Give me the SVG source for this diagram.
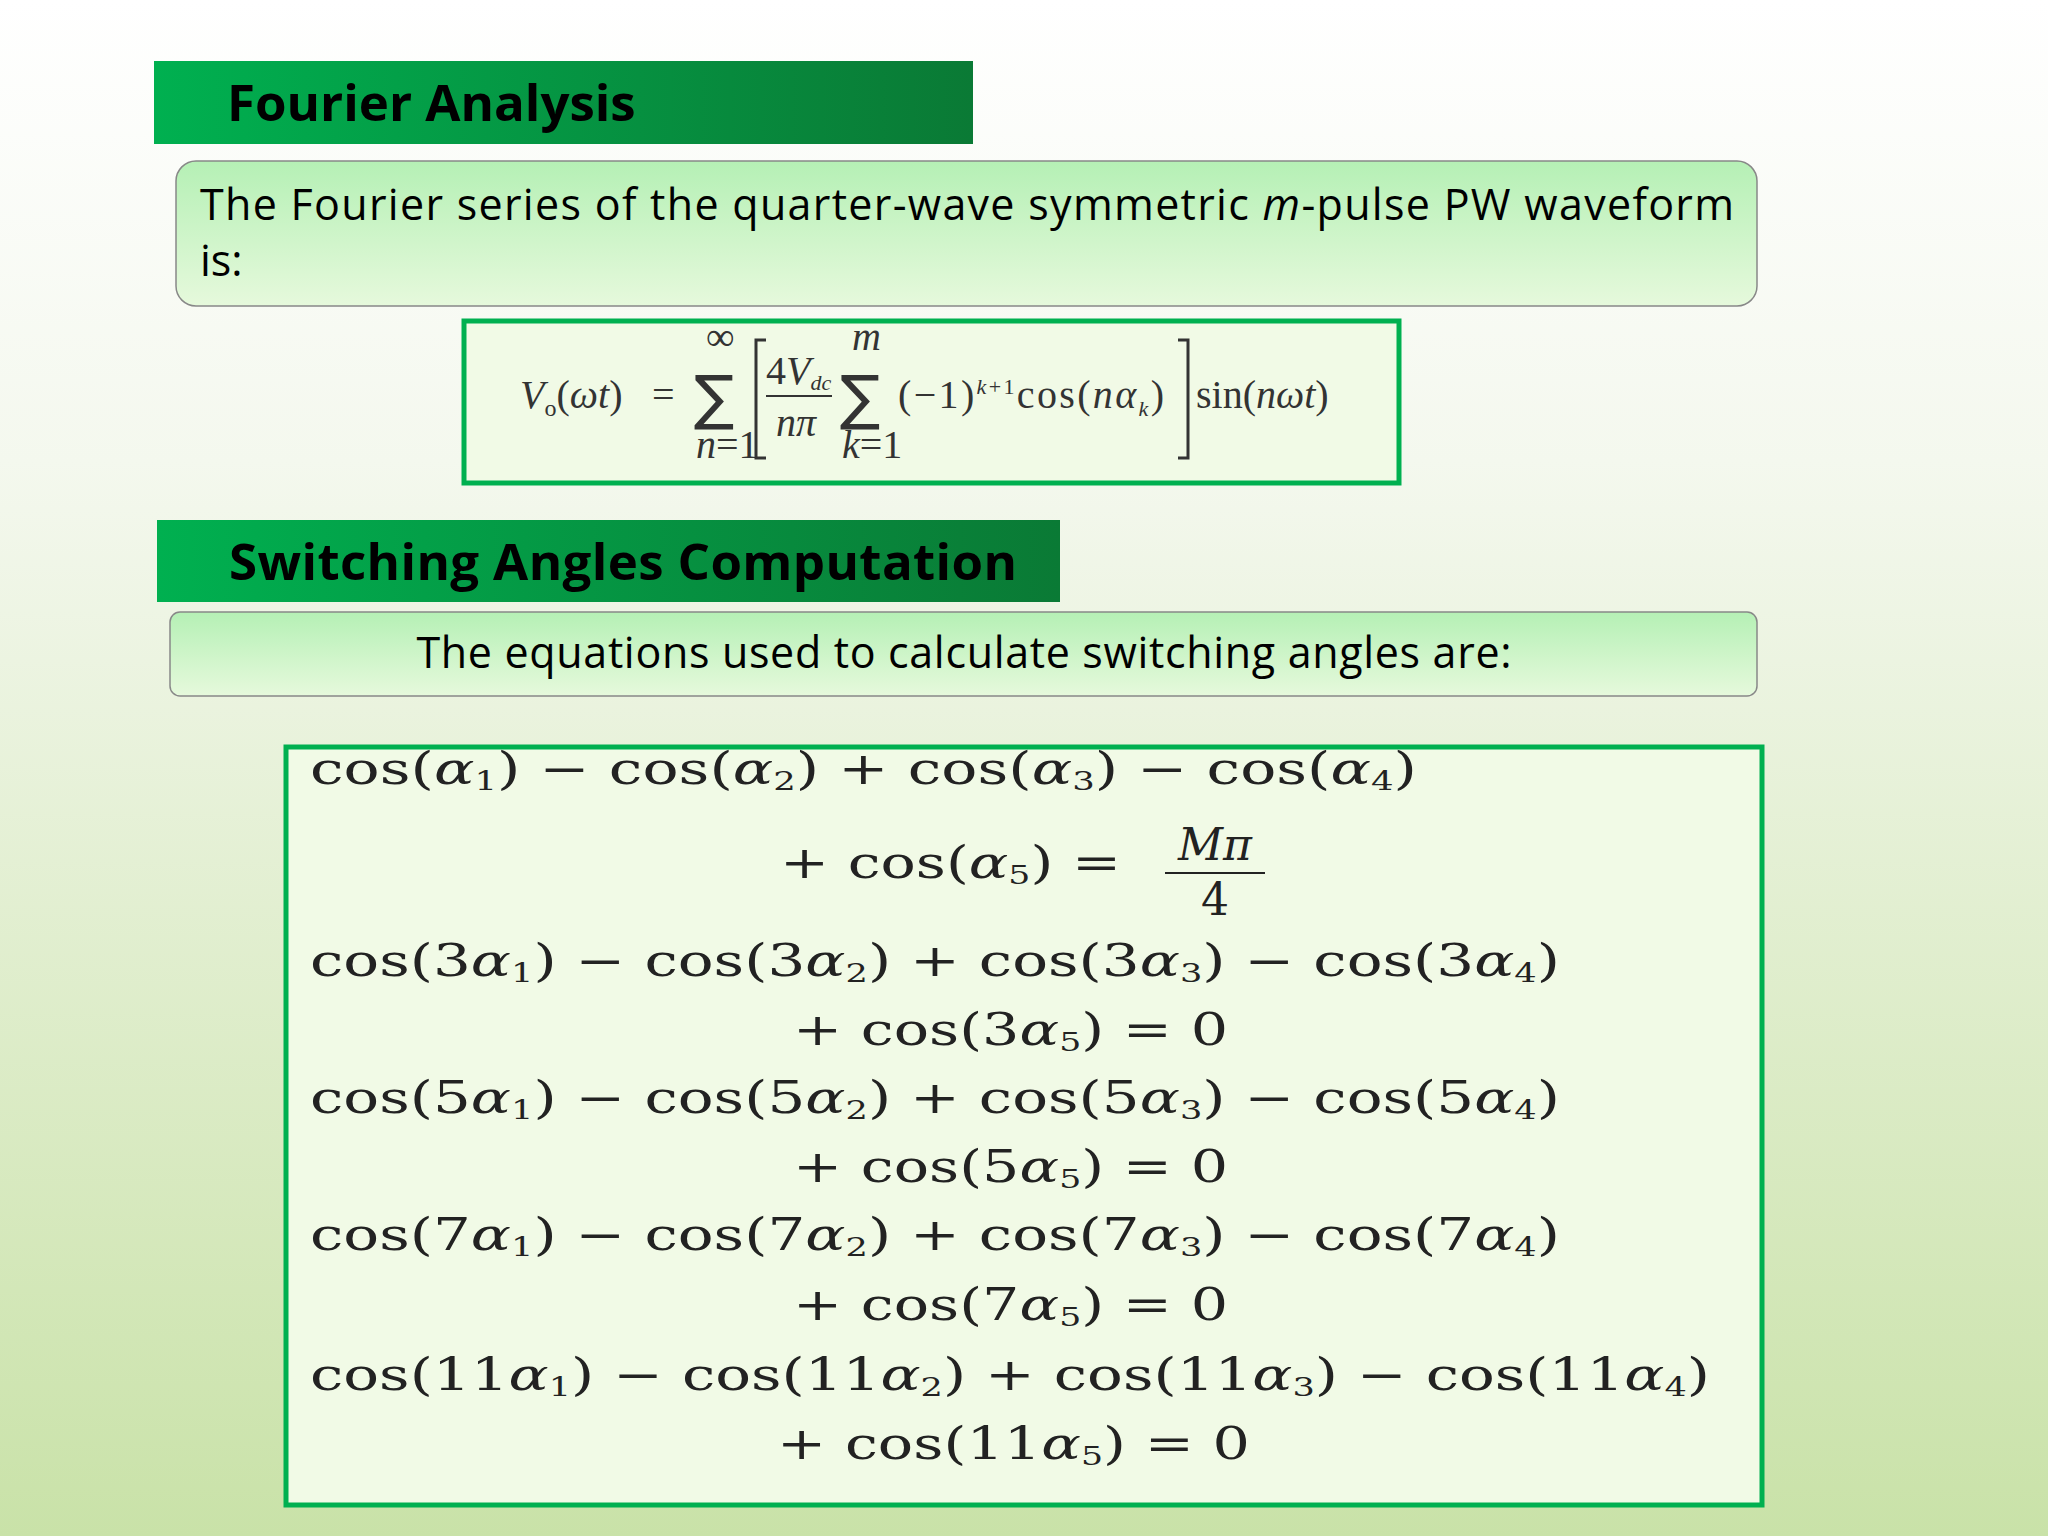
<svg xmlns="http://www.w3.org/2000/svg" width="2048" height="1536" viewBox="0 0 2048 1536">
<defs>
<linearGradient id="bg" x1="0" y1="0" x2="0" y2="1"><stop offset="0" stop-color="#ffffff"/><stop offset="0.3" stop-color="#f4f8ee"/><stop offset="1" stop-color="#c9e2a8"/></linearGradient>
<linearGradient id="hd" x1="0" y1="0" x2="1" y2="0"><stop offset="0" stop-color="#00b050"/><stop offset="1" stop-color="#0a7a35"/></linearGradient>
<linearGradient id="bx" x1="0" y1="0" x2="0" y2="1"><stop offset="0" stop-color="#b5f0b5"/><stop offset="1" stop-color="#e6f9dc"/></linearGradient>
<style>
.h{font-family:"Open Sans","Liberation Sans",sans-serif;font-weight:bold;font-size:51px;fill:#000}
.t{font-family:"Open Sans","Liberation Sans",sans-serif;font-size:43px;fill:#000}
.m{font-family:"DejaVu Serif","Liberation Serif",serif;font-size:44px;fill:#222}
.f{font-family:"Liberation Serif",serif;font-size:40px;fill:#333}
.sg{font-family:"DejaVu Sans",sans-serif;font-size:60px;fill:#333}
.s{font-size:26px}
.box{fill:url(#bx);stroke:#888;stroke-width:1.5}
.eq{fill:#f1fae6;stroke:#00b050;stroke-width:5}
</style>
</defs>
<rect width="2048" height="1536" fill="url(#bg)"/>
<g id="header1"><rect x="154" y="61" width="819" height="83" fill="url(#hd)"/><text class="h" x="227" y="121">Fourier Analysis</text></g>
<g id="box1"><rect class="box" x="176" y="161" width="1581" height="145" rx="20"/>
<text class="t" x="200" y="220" textLength="1534" lengthAdjust="spacing">The Fourier series of the quarter-wave symmetric <tspan font-style="italic">m</tspan>-pulse PW waveform</text>
<text class="t" x="200" y="276">is:</text></g>
<g id="formula"><rect class="eq" x="464" y="321" width="935" height="162"/>
<text class="f" x="520" y="408"><tspan font-style="italic">V</tspan><tspan font-size="24" dy="8">o</tspan><tspan dy="-8">(</tspan><tspan font-style="italic">ωt</tspan>)</text>
<text class="f" x="652" y="408">=</text>
<text class="sg" x="694" y="418">∑</text>
<text class="f" x="706" y="350" font-size="18">∞</text>
<text class="f" x="696" y="458" font-size="18" font-style="italic">n<tspan font-style="normal">=1</tspan></text>
<path d="M766 340 H756 V458 H766 M1178 340 H1188 V458 H1178" fill="none" stroke="#333" stroke-width="3"/>
<text class="f" x="766" y="384" font-size="36">4<tspan font-style="italic">V</tspan><tspan font-size="22" dy="6" font-style="italic">dc</tspan></text>
<line x1="766" y1="396" x2="832" y2="396" stroke="#333" stroke-width="2"/>
<text class="f" x="776" y="436" font-size="36" font-style="italic">nπ</text>
<text class="sg" x="840" y="418">∑</text>
<text class="f" x="852" y="350" font-size="18" font-style="italic">m</text>
<text class="f" x="842" y="458" font-size="18" font-style="italic">k<tspan font-style="normal">=1</tspan></text>
<text class="f" x="898" y="408" font-size="38" textLength="266" lengthAdjust="spacing">(−1)<tspan font-size="22" dy="-14" font-style="italic">k</tspan><tspan font-size="22">+1</tspan><tspan dy="14">cos(</tspan><tspan font-style="italic">nα</tspan><tspan font-size="22" dy="8" font-style="italic">k</tspan><tspan dy="-8">)</tspan></text>
<text class="f" x="1196" y="408" font-size="38">sin(<tspan font-style="italic">nωt</tspan>)</text></g>
<g id="header2"><rect x="157" y="520" width="903" height="82" fill="url(#hd)"/><text class="h" x="229" y="580" textLength="788">Switching Angles Computation</text></g>
<g id="box2"><rect class="box" x="170" y="612" width="1587" height="84" rx="10"/><text class="t" x="964" y="668" text-anchor="middle" textLength="1095">The equations used to calculate switching angles are:</text></g>
<g id="equations"><rect class="eq" x="286" y="747" width="1476" height="758"/>
<g class="m">
<text x="310" y="784" textLength="1107" lengthAdjust="spacingAndGlyphs">cos(<tspan font-style="italic">α</tspan><tspan class="s" dy="6">1</tspan><tspan dy="-6">) − cos(</tspan><tspan font-style="italic">α</tspan><tspan class="s" dy="6">2</tspan><tspan dy="-6">) + cos(</tspan><tspan font-style="italic">α</tspan><tspan class="s" dy="6">3</tspan><tspan dy="-6">) − cos(</tspan><tspan font-style="italic">α</tspan><tspan class="s" dy="6">4</tspan><tspan dy="-6">)</tspan></text>
<text x="780" y="878" textLength="341" lengthAdjust="spacingAndGlyphs">+ cos(<tspan font-style="italic">α</tspan><tspan class="s" dy="6">5</tspan><tspan dy="-6">) =</tspan></text>
<text x="1215" y="860" font-style="italic" text-anchor="middle">Mπ</text>
<line x1="1165" y1="873" x2="1265" y2="873" stroke="#222" stroke-width="2"/>
<text x="1215" y="915" text-anchor="middle">4</text>
<text x="310" y="976" textLength="1250" lengthAdjust="spacingAndGlyphs">cos(3<tspan font-style="italic">α</tspan><tspan class="s" dy="6">1</tspan><tspan dy="-6">) − cos(3</tspan><tspan font-style="italic">α</tspan><tspan class="s" dy="6">2</tspan><tspan dy="-6">) + cos(3</tspan><tspan font-style="italic">α</tspan><tspan class="s" dy="6">3</tspan><tspan dy="-6">) − cos(3</tspan><tspan font-style="italic">α</tspan><tspan class="s" dy="6">4</tspan><tspan dy="-6">)</tspan></text>
<text x="793" y="1045" textLength="435" lengthAdjust="spacingAndGlyphs">+ cos(3<tspan font-style="italic">α</tspan><tspan class="s" dy="6">5</tspan><tspan dy="-6">) = 0</tspan></text>
<text x="310" y="1113" textLength="1250" lengthAdjust="spacingAndGlyphs">cos(5<tspan font-style="italic">α</tspan><tspan class="s" dy="6">1</tspan><tspan dy="-6">) − cos(5</tspan><tspan font-style="italic">α</tspan><tspan class="s" dy="6">2</tspan><tspan dy="-6">) + cos(5</tspan><tspan font-style="italic">α</tspan><tspan class="s" dy="6">3</tspan><tspan dy="-6">) − cos(5</tspan><tspan font-style="italic">α</tspan><tspan class="s" dy="6">4</tspan><tspan dy="-6">)</tspan></text>
<text x="793" y="1182" textLength="435" lengthAdjust="spacingAndGlyphs">+ cos(5<tspan font-style="italic">α</tspan><tspan class="s" dy="6">5</tspan><tspan dy="-6">) = 0</tspan></text>
<text x="310" y="1250" textLength="1250" lengthAdjust="spacingAndGlyphs">cos(7<tspan font-style="italic">α</tspan><tspan class="s" dy="6">1</tspan><tspan dy="-6">) − cos(7</tspan><tspan font-style="italic">α</tspan><tspan class="s" dy="6">2</tspan><tspan dy="-6">) + cos(7</tspan><tspan font-style="italic">α</tspan><tspan class="s" dy="6">3</tspan><tspan dy="-6">) − cos(7</tspan><tspan font-style="italic">α</tspan><tspan class="s" dy="6">4</tspan><tspan dy="-6">)</tspan></text>
<text x="793" y="1320" textLength="435" lengthAdjust="spacingAndGlyphs">+ cos(7<tspan font-style="italic">α</tspan><tspan class="s" dy="6">5</tspan><tspan dy="-6">) = 0</tspan></text>
<text x="310" y="1390" textLength="1400" lengthAdjust="spacingAndGlyphs">cos(11<tspan font-style="italic">α</tspan><tspan class="s" dy="6">1</tspan><tspan dy="-6">) − cos(11</tspan><tspan font-style="italic">α</tspan><tspan class="s" dy="6">2</tspan><tspan dy="-6">) + cos(11</tspan><tspan font-style="italic">α</tspan><tspan class="s" dy="6">3</tspan><tspan dy="-6">) − cos(11</tspan><tspan font-style="italic">α</tspan><tspan class="s" dy="6">4</tspan><tspan dy="-6">)</tspan></text>
<text x="777" y="1459" textLength="473" lengthAdjust="spacingAndGlyphs">+ cos(11<tspan font-style="italic">α</tspan><tspan class="s" dy="6">5</tspan><tspan dy="-6">) = 0</tspan></text>
</g></g>
</svg>
